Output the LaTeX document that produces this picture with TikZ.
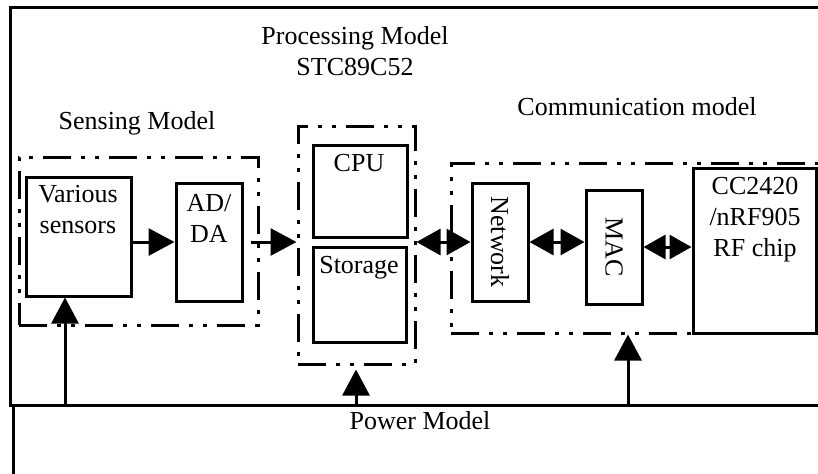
\documentclass[tikz,border=0pt]{standalone}
\usepackage{fontspec}
\setmainfont{Liberation Serif}
\usetikzlibrary{arrows.meta}
\tikzset{
  blk/.style={draw,line width=1.5pt,inner sep=0pt,fill=white},
  grp/.style={draw,line width=1.5pt,inner sep=0pt,
    dash pattern=on 14pt off 5pt on 2pt off 5pt on 2pt off 5pt},
  txt/.style={font=\fontsize{13}{15.5}\selectfont,align=center,inner sep=0pt},
  fwd/.style={line width=1.5pt,-{Triangle[length=13pt,width=13.5pt]}},
  both/.style={line width=1.5pt,
    {Triangle[length=12pt,width=13pt]}-{Triangle[length=12pt,width=13pt]}},
}
\begin{document}
\begin{tikzpicture}[x=0.5pt,y=-0.5pt]
  \clip (0,0) rectangle (818,473);
  % frame and power model
  \node[blk,minimum width=415pt,minimum height=199pt] (frame) at (425,206) {};
  \node[blk,minimum width=413.5pt,minimum height=47.5pt] (pwr) at (426.5,452.5) {};
  \node[txt] (pwrtxt) at (420,421) {Power Model};
  % titles
  \node[txt] (proctitle) at (355,51) {Processing Model\\STC89C52};
  \node[txt] (senstitle) at (137,123) {Sensing Model};
  \node[txt] (commtitle) at (637,107) {Communication model};
  % dash-dot groups
  \node[grp,minimum width=119.5pt,minimum height=84pt] (sensgrp) at (138.5,241) {};
  \node[grp,minimum width=58.5pt,minimum height=119pt] (procgrp) at (356.5,245) {};
  \node[grp,minimum width=194.5pt,minimum height=85pt] (commgrp) at (645.5,248) {};
  % blocks
  \node[blk,minimum width=52.5pt,minimum height=59.5pt] (sens) at (78.5,236.5) {};
  \node[txt] (senstxt) at (78,210) {Various\\sensors};
  \node[blk,minimum width=33pt,minimum height=59pt] (adda) at (209,242) {};
  \node[txt] (addatxt) at (209,218) {AD/\\DA};
  \node[blk,minimum width=47pt,minimum height=46pt] (cpu) at (360,191) {};
  \node[txt] (cputxt) at (359,163) {CPU};
  \node[blk,minimum width=46.5pt,minimum height=47.5pt] (stor) at (359.5,294.5) {};
  \node[txt] (stortxt) at (359,268) {Storage};
  \node[blk,minimum width=28pt,minimum height=59pt] (net) at (500,242) {};
  \node[txt,rotate=-90] (nettxt) at (500,242) {Network};
  \node[blk,minimum width=28pt,minimum height=57pt] (mac) at (614,247) {};
  \node[txt,rotate=-90] (mactxt) at (614,247) {MAC};
  \node[blk,minimum width=61.5pt,minimum height=82.5pt] (rf) at (754.5,250.5) {};
  \node[txt] (rftxt) at (755,220) {CC2420\\/nRF905\\RF chip};
  % data path
  \draw[fwd] (sens.east |- adda.west) -- (adda.west);
  \draw[fwd,shorten <=3.5pt] (adda.east) -- (adda.east -| procgrp.west);
  \draw[both] (procgrp.east |- net.west) -- (net.west);
  \draw[both] (net.east) -- (net.east -| mac.west);
  \draw[line width=1.5pt,{Triangle[length=11pt,width=12pt]}-{Triangle[length=11pt,width=12pt]}]
    (mac.east) -- (mac.east -| rf.west);
  % power supply
  \coordinate (pw1) at (65,405);
  \coordinate (pw2) at (356,405);
  \coordinate (pw3) at (628,405);
  \draw[fwd] (pw1) -- (pw1 |- sens.south);
  \draw[fwd,shorten >=2pt] (pw2) -- (pw2 |- procgrp.south);
  \draw[fwd] (pw3) -- (pw3 |- commgrp.south);
\end{tikzpicture}
\end{document}
